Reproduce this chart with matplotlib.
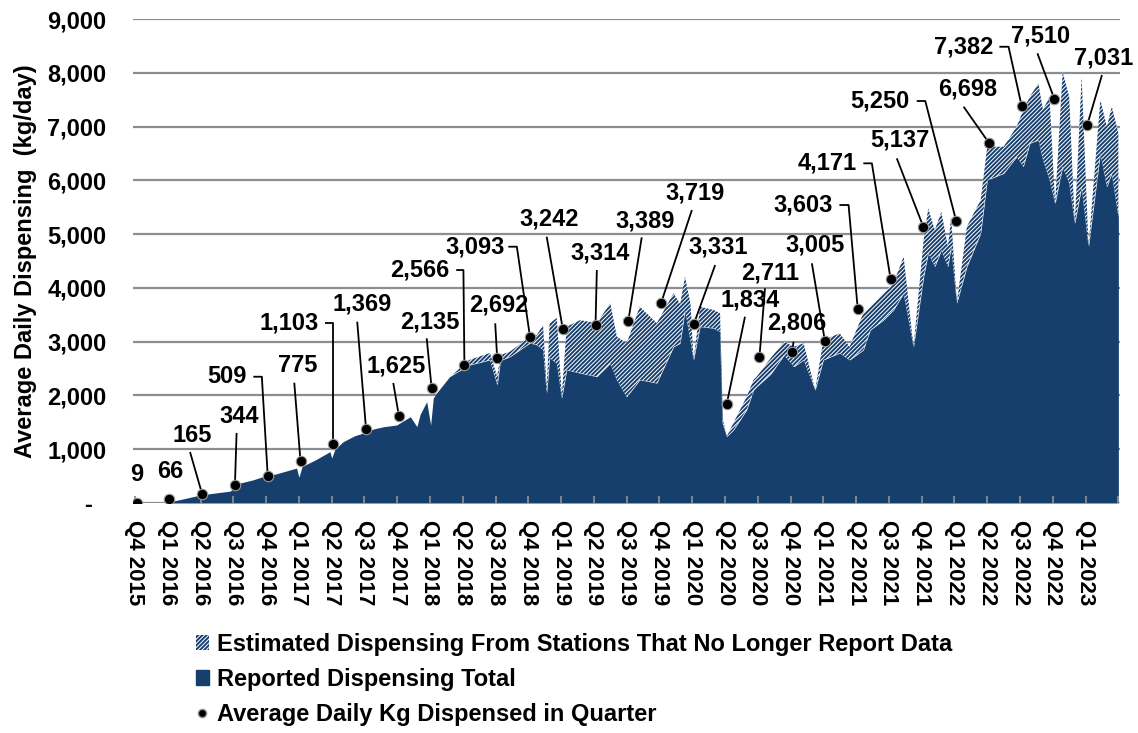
import matplotlib
matplotlib.use("Agg")
import matplotlib.pyplot as plt
from matplotlib.patches import Patch
from matplotlib.lines import Line2D
from matplotlib.ticker import FuncFormatter, MultipleLocator

plt.rcParams['font.family'] = ['Liberation Sans', 'DejaVu Sans']
plt.rcParams['font.weight'] = 'bold'
plt.rcParams['hatch.linewidth'] = 1.4

# ---------------- data ----------------
quarters = ["Q4 2015", "Q1 2016", "Q2 2016", "Q3 2016", "Q4 2016", "Q1 2017", "Q2 2017",
            "Q3 2017", "Q4 2017", "Q1 2018", "Q2 2018", "Q3 2018", "Q4 2018", "Q1 2019",
            "Q2 2019", "Q3 2019", "Q4 2019", "Q1 2020", "Q2 2020", "Q3 2020", "Q4 2020",
            "Q1 2021", "Q2 2021", "Q3 2021", "Q4 2021", "Q1 2022", "Q2 2022", "Q3 2022",
            "Q4 2022", "Q1 2023"]
quarter_avg = [9, 66, 165, 344, 509, 775, 1103, 1369, 1625, 2135, 2566, 2692, 3093, 3242,
               3314, 3389, 3719, 3331, 1834, 2711, 2806, 3005, 3603, 4171, 5137, 5250,
               6698, 7382, 7510, 7031]

# time axis in quarters since Q4 2015
t = [1.12, 1.5, 2.0, 2.5, 2.9, 3.2, 3.6, 3.9, 4.3, 4.7, 4.93, 5.0, 5.1, 5.5, 5.95, 6.0,
     6.1, 6.35, 6.7, 6.96, 7.3, 7.6, 7.98, 8.4, 8.6, 8.7, 8.9, 9.02, 9.1, 9.2, 9.6,
     10.2, 10.83, 11.05, 11.15, 11.44, 12.05, 12.26, 12.45, 12.56, 12.65, 12.87, 13.02,
     13.17, 13.58, 14.09, 14.5, 14.7, 15.0, 15.4, 15.92, 16.43, 16.63, 16.78, 16.95,
     17.04, 17.24, 17.65, 17.85, 17.92, 18.05, 18.26, 18.66, 18.87, 18.97, 19.4, 19.8,
     20.1, 20.4, 20.75, 21.0, 21.5, 21.8, 22.22, 22.43, 22.83, 23.14, 23.45, 23.75,
     24.06, 24.2, 24.4, 24.6, 24.8, 24.9, 25.07, 25.38, 25.8, 26.0, 26.5, 26.9, 27.1,
     27.3, 27.56, 27.7, 27.9, 28.07, 28.3, 28.5, 28.67, 28.88, 29.09, 29.45, 29.65,
     29.8, 30.0]
reported = [30, 80, 150, 190, 220, 370, 430, 490, 540, 610, 650, 480, 680, 800, 955, 835,
            1000, 1140, 1250, 1300, 1380, 1420, 1450, 1605, 1420, 1650, 1885, 1450, 1950,
            2045, 2350, 2565, 2660, 2195, 2650, 2720, 2975, 2940, 2845, 2045, 2700, 2600,
            1950, 2475, 2415, 2350, 2600, 2290, 1975, 2290, 2230, 2905, 2970, 3590, 3000,
            2660, 3280, 3250, 3185, 1490, 1235, 1360, 1730, 2100, 2165, 2400, 2750,
            2535, 2660, 2100, 2660, 2790, 2660, 2845, 3215, 3400, 3590, 3900, 2905,
            4210, 4645, 4395, 4705, 4395, 4770, 3715, 4395, 5015, 6005, 6130, 6440, 6255,
            6690, 6750, 6380, 6005, 5570, 6255, 5945, 5200, 5880, 4770, 6505, 5880,
            6130, 5325]
total = [30, 80, 150, 190, 220, 370, 430, 490, 540, 610, 650, 480, 680, 800, 955, 835,
         1000, 1140, 1250, 1300, 1380, 1420, 1450, 1605, 1420, 1650, 1885, 1450, 1950,
         2045, 2350, 2660, 2790, 2350, 2750, 2815, 3095, 3125, 3310, 2150, 3345, 3440,
         2000, 3280, 3400, 3345, 3715, 3095, 2970, 3650, 3345, 3900, 3700, 4210, 3700,
         2660, 3650, 3590, 3530, 1600, 1235, 1490, 1975, 2290, 2350, 2700, 3000,
         2905, 2970, 2100, 3030, 3155, 2905, 3530, 3650, 3900, 4085, 4580, 2905,
         4890, 5480, 5075, 5415, 4770, 5325, 3715, 5140, 5635, 6625, 6625, 7000, 7310,
         7555, 7805, 7310, 7555, 5570, 8020, 7555, 5200, 7930, 4770, 7495, 7000,
         7370, 6880]

# label placement (text centre, in data units) and leader lines
label_pos = [(0.06, 521), (1.09, 582), (1.76, 1264), (3.17, 1605), (2.80, 2348),
             (4.96, 2566), (4.71, 3353), (6.92, 3700), (7.98, 2547), (9.00, 3371),
             (8.70, 4332), (11.09, 3682), (10.38, 4766), (12.64, 5281), (14.19, 4643),
             (15.56, 5244), (17.09, 5770), (17.80, 4754), (18.77, 3775), (19.38, 4282),
             (20.19, 3341), (20.75, 4797), (20.39, 5541), (21.11, 6316), (23.32, 6750),
             (22.73, 7475), (25.40, 7692), (25.28, 8484), (27.62, 8684), (29.55, 8269)]
leader_start = [None, None, (1.68, 948), (3.10, 1302), (3.87, 2348), (4.86, 2237),
                (6.05, 3353), (6.78, 3371), (7.88, 2231), (8.90, 3062), (10.02, 4332),
                (10.99, 3341), (11.65, 4766), (12.56, 4952), (14.09, 4332), (15.46, 4940),
                (16.99, 5448), (17.70, 4425), (18.61, 3464), (19.22, 3992), (20.09, 2999),
                (20.65, 4457), (21.77, 5541), (22.48, 6316), (23.24, 6409), (24.11, 7475),
                (25.28, 7369), (26.65, 8484), (27.53, 8362), (29.50, 7958)]
elbow_from = [None, None, None, None, 3.61, None, 5.80, None, None, None, 9.80, None,
              11.39, None, None, None, None, None, None, None, None, None, 21.49, 22.22,
              None, 23.85, None, 26.37, None, None]

NAVY = '#173f6e'
GRID = '#8a8d96'
HATCH = '////////'

fig = plt.figure(figsize=(11.38, 7.33), dpi=100)
ax = fig.add_axes([133/1138, 1 - 503/733, (1120 - 133)/1138, (503 - 19)/733])

ax.fill_between(t, 0, reported, facecolor=NAVY, edgecolor=NAVY, linewidth=0, zorder=2)
ax.fill_between(t, reported, total, facecolor='white', edgecolor=NAVY, hatch=HATCH,
                linewidth=0, zorder=2)

dot_x = [i + 0.05 for i in range(len(quarter_avg))]
ax.plot(dot_x, quarter_avg, 'o', color='black', markersize=7.5, markeredgecolor='#9a9a9a',
        markeredgewidth=0.8, zorder=6)

for i, v in enumerate(quarter_avg):
    lx, ly = label_pos[i]
    ax.text(lx, ly, f"{v:,}", ha='center', va='center', fontsize=17, fontweight='bold',
            zorder=7)
    st = leader_start[i]
    if st is not None:
        xs, ys = [st[0], dot_x[i]], [st[1], v]
        if elbow_from[i] is not None:
            xs = [elbow_from[i]] + xs
            ys = [st[1]] + ys
        ax.plot(xs, ys, color='black', linewidth=1.3, zorder=5, solid_capstyle='butt')

ax.set_xlim(-0.06, 30.05)
ax.set_ylim(0, 9000)
ax.yaxis.set_major_locator(MultipleLocator(1000))
ax.yaxis.set_major_formatter(FuncFormatter(lambda v, p: "-  " if v == 0 else f"{int(v):,}"))
ax.grid(axis='y', color=GRID, linewidth=1.6, zorder=0)
ax.set_axisbelow(True)
for s in ax.spines.values():
    s.set_visible(False)

ax.set_xticks(range(len(quarters) + 1))
ax.set_xticklabels(quarters + [""], rotation=270, fontsize=16, fontweight='bold',
                   va='top', ha='center')
ax.tick_params(axis='x', direction='in', length=5, width=1.3, color=GRID, pad=12)
ax.tick_params(axis='y', length=0, pad=19, labelsize=17)
for lbl in ax.get_yticklabels():
    lbl.set_fontweight('bold')
ax.xaxis.set_zorder(4)

ax.set_ylabel("Average Daily Dispensing  (kg/day)", fontsize=17, fontweight='bold')
ax.yaxis.set_label_coords(-0.097, 0.5)

handles = [Patch(facecolor='white', edgecolor=NAVY, hatch=HATCH, linewidth=0),
           Patch(facecolor=NAVY, edgecolor=NAVY),
           Line2D([], [], marker='o', color='black', linestyle='none', markersize=6,
                  markeredgecolor='#9a9a9a')]
labels = ["Estimated Dispensing From Stations That No Longer Report Data",
          "Reported Dispensing Total",
          "Average Daily Kg Dispensed in Quarter"]
fig.legend(handles, labels, loc='upper left', bbox_to_anchor=(196/1138, 1 - 633/733),
           frameon=False, prop={'size': 17, 'weight': 'bold'}, handlelength=0.55,
           handleheight=0.6, handletextpad=0.35, labelspacing=0.5, borderpad=0,
           borderaxespad=0)

fig.savefig("out.png", dpi=100)
